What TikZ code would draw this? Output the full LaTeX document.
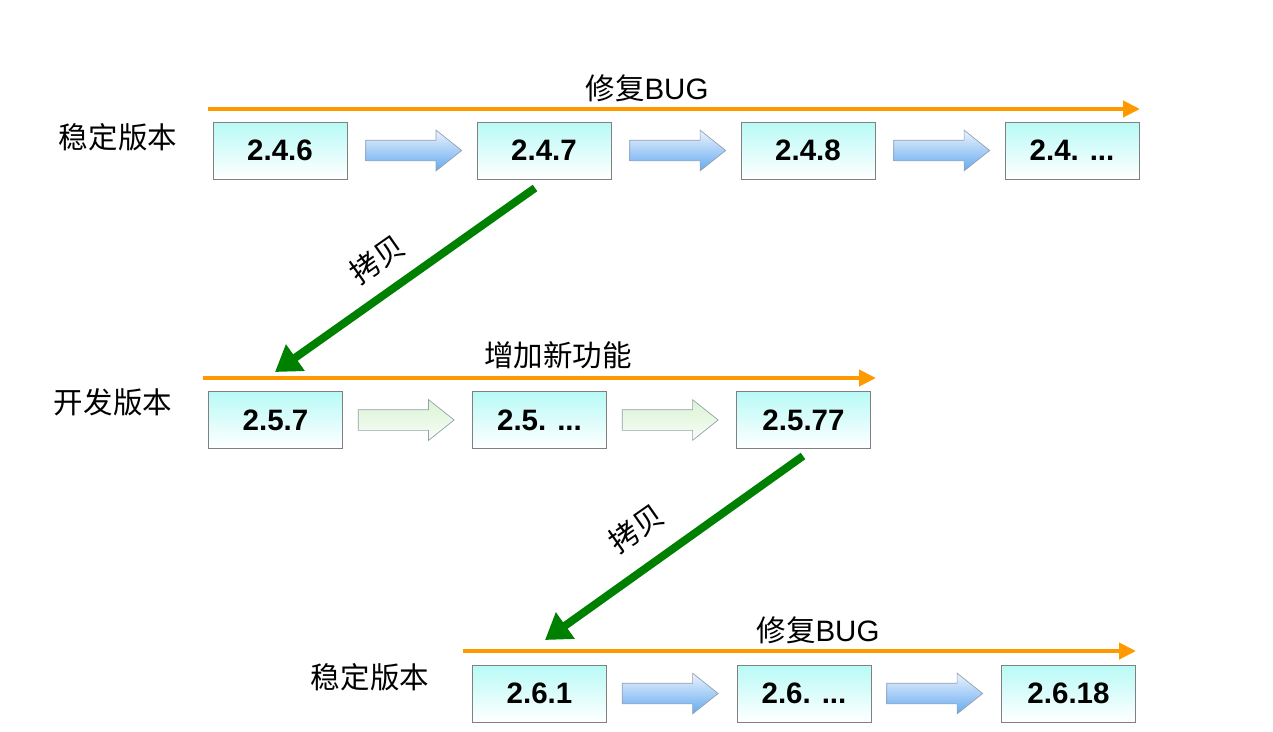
\documentclass[tikz,border=0pt]{standalone}
\usepackage{fontspec}
\setmainfont{Liberation Sans}
\newfontfamily\cjk{Noto Sans CJK SC}
\usepackage{xcolor}
\usetikzlibrary{shapes.arrows,positioning,calc,arrows.meta}

\definecolor{boxtop}{RGB}{184,250,246}
\definecolor{boxedge}{RGB}{128,128,128}
\definecolor{bluetop}{RGB}{236,243,253}
\definecolor{bluebot}{RGB}{100,170,240}
\definecolor{greentop}{RGB}{218,244,212}
\definecolor{greenbot}{RGB}{248,253,246}
\definecolor{arredge}{RGB}{150,160,172}
\definecolor{fixorange}{RGB}{255,153,0}
\definecolor{copygreen}{RGB}{0,128,0}

\tikzset{
    verbox/.style={draw=boxedge, top color=boxtop, bottom color=white,
        minimum width=2.68cm, minimum height=1.14cm, inner sep=0pt,
        font=\fontsize{16.8}{20}\selectfont\bfseries},
    stepbase/.style={single arrow, draw=arredge, inner xsep=0pt, inner ysep=0.2cm,
        minimum height=1.92cm, anchor=tail,
        single arrow head extend=0.2cm, single arrow tip angle=77},
    bluestep/.style={stepbase, top color=bluetop, bottom color=bluebot},
    greenstep/.style={stepbase, top color=greentop, bottom color=greenbot},
    fixline/.style={draw=fixorange, line width=2.3pt, -{Triangle[length=0.34cm,width=0.32cm]}},
    copyline/.style={draw=copygreen, line width=4.5pt, -{Triangle[length=0.5cm,width=0.62cm]}},
    lbl/.style={font=\fontsize{16.8}{20}\selectfont},
}

\begin{document}
\begin{tikzpicture}[x=0.02cm, y=-0.02cm]
    \useasboundingbox (0,0) rectangle (1273,731);

    % stable branch 2.4
    \foreach \n/\x/\t in {a/280/2.4.6, b/544/2.4.7, c/808/2.4.8, d/1072/{2.4. ...}}
        \node[verbox] (r1\n) at (\x,150.5) {\t};
    \foreach \p/\q in {a/b, b/c, c/d}
        \node[bluestep] (r1\p\q) at ($(r1\p.east)+(18,0)$) {};

    % development branch 2.5
    \foreach \n/\x/\t in {a/275.5/2.5.7, b/539.5/{2.5. ...}, c/803.5/2.5.77}
        \node[verbox] (r2\n) at (\x,420) {\t};
    \foreach \p/\q in {a/b, b/c}
        \node[greenstep] (r2\p\q) at ($(r2\p.east)+(15,0)$) {};

    % stable branch 2.6
    \foreach \n/\x/\t in {a/539.5/2.6.1, b/804/{2.6. ...}, c/1068.5/2.6.18}
        \node[verbox] (r3\n) at (\x,693.5) {\t};
    \foreach \p/\q in {a/b, b/c}
        \node[bluestep] (r3\p\q) at ($(r3\p.east)+(15,0)$) {};

    % row labels
    \node[lbl] (side1) at (118,137) {\cjk 稳定版本};
    \node[lbl] (side2) at (113,402) {\cjk 开发版本};
    \node[lbl] (side3) at (370,677) {\cjk 稳定版本};

    % orange timelines
    \coordinate (o1s) at (208,109);  \coordinate (o1e) at (1140,109);
    \coordinate (o2s) at (203,378);  \coordinate (o2e) at (876,378);
    \coordinate (o3s) at (463,651);  \coordinate (o3e) at (1136,651);
    \draw[fixline] (o1s) -- (o1e);
    \draw[fixline] (o2s) -- (o2e);
    \draw[fixline] (o3s) -- (o3e);
    \node[lbl] (fix1) at (647,88) {{\cjk 修复}BUG};
    \node[lbl] (new2) at (558,355) {\cjk 增加新功能};
    \node[lbl] (fix3) at (818,630) {{\cjk 修复}BUG};

    % copies
    \coordinate (g1s) at (535,188);  \coordinate (g1e) at (275,372);
    \coordinate (g2s) at (803,456);  \coordinate (g2e) at (545,640);
    \draw[copyline] (g1s) -- (g1e);
    \draw[copyline] (g2s) -- (g2e);
    \node[lbl, rotate=35, inner sep=0pt] (cp1) at (377,259) {\cjk 拷贝};
    \node[lbl, rotate=35, inner sep=0pt] (cp2) at (636,528) {\cjk 拷贝};
\end{tikzpicture}
\end{document}
